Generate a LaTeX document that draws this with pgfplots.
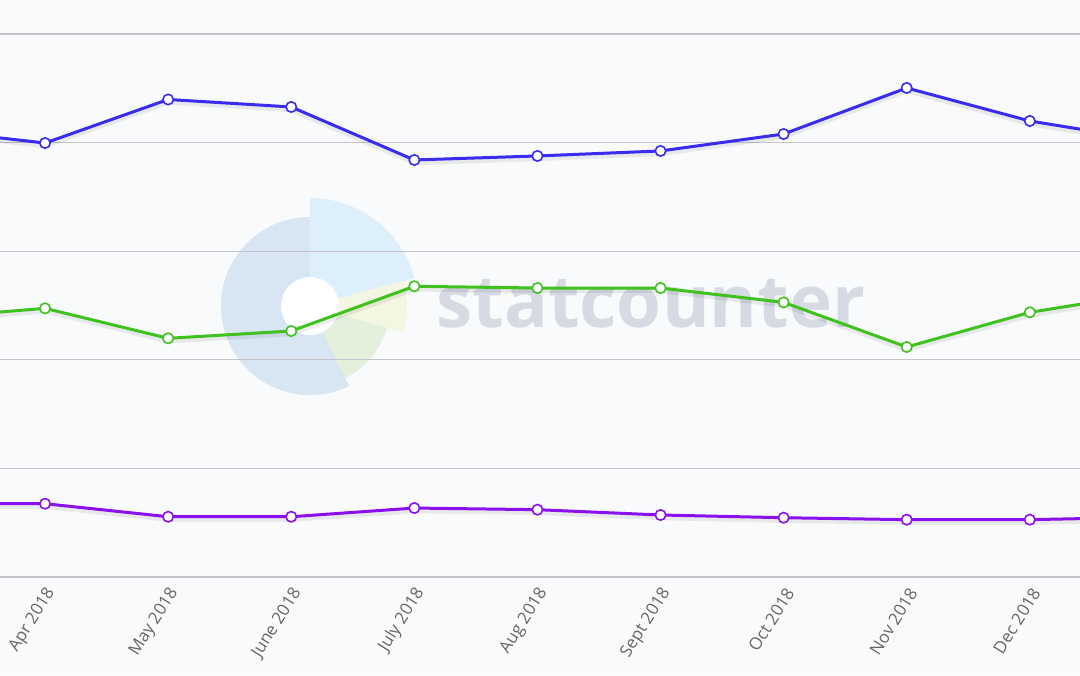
\documentclass[border=0pt]{standalone}
\usepackage{pgfplots}
\usepackage{pgfplotstable}
\pgfplotsset{compat=1.18}
\usepackage{fontspec}
\setmainfont{Open Sans}
\definecolor{bg}{HTML}{F9FAFC}
\definecolor{gridc}{HTML}{C4C4C8}
\definecolor{lblue}{HTML}{3A2CEE}
\definecolor{lgreen}{HTML}{40C21E}
\definecolor{lpurple}{HTML}{8A10EE}
\definecolor{logoblue}{HTML}{D8E5F3}
\definecolor{logocyan}{HTML}{DDEFFB}
\definecolor{logoyellow}{HTML}{F3F7E1}
\definecolor{logogreen}{HTML}{E4EFDC}
\definecolor{logotext}{HTML}{D5DAE3}
\definecolor{ticktext}{HTML}{666666}

\pgfplotstableread{
x blue green purple
0 41.25 23.81 6.75
1 39.96 24.74 6.75
2 43.97 21.98 5.55
3 43.28 22.65 5.55
4 38.40 26.77 6.35
5 38.77 26.61 6.20
6 39.23 26.61 5.71
7 40.79 25.29 5.46
8 45.03 21.18 5.28
9 41.99 24.37 5.28
10 40.15 26.19 5.51
}\datatable

\begin{document}
\begin{tikzpicture}[x=1bp,y=1bp]
\path[use as bounding box, fill=bg] (0,-49) rectangle (540,288.5);
% watermark logo
\begin{scope}[shift={(155,135.5)}]
 \fill[logoblue] (0,0) -- (90:44.5) arc[start angle=90,end angle=296,radius=44.5] -- cycle;
 \fill[logocyan] (0,0) -- (15:54) arc[start angle=15,end angle=90,radius=54] -- cycle;
 \fill[logoyellow] (0,0) -- (-16:48.5) arc[start angle=-16,end angle=15,radius=48.5] -- cycle;
 \fill[logogreen] (0,0) -- (-64:40) arc[start angle=-64,end angle=-16,radius=40] -- cycle;
 \fill[white] (0,0) circle (14.5);
\end{scope}
\node[anchor=base west, inner sep=0, text=logotext, font=\fontsize{36.5}{42}\selectfont\bfseries] at (218,125) {statcounter};
\begin{axis}[
  at={(0,0)}, anchor=south west,
  scale only axis, width=540bp, height=288.5bp,
  xmin=0.634, xmax=9.408, ymin=0, ymax=53.13,
  axis line style={draw=none},
  ytick={0,10,20,30,40,50}, yticklabels={},
  ymajorgrids, grid style={gridc, line width=0.6bp},
  major tick length=0,
  xtick={1,...,9},
  xticklabels={Apr 2018, May 2018, June 2018, July 2018, Aug 2018, Sept 2018, Oct 2018, Nov 2018, Dec 2018},
  xticklabel style={xshift=5bp, yshift=-3.5bp, rotate=58, anchor=east, font=\fontsize{8.5}{10}\selectfont, text=ticktext},
  clip=true,
]
\foreach \s/\c in {blue/lblue, green/lgreen, purple/lpurple}{
  \addplot[black, opacity=0.07, line width=2.8bp, no marks, yshift=-1.2bp] table[x=x, y=\s] {\datatable};
}
\addplot[lblue, line width=1.5bp, mark=*, mark size=2.6bp, mark options={fill=white, draw=lblue, line width=0.8bp}] table[x=x, y=blue] {\datatable};
\addplot[lgreen, line width=1.5bp, mark=*, mark size=2.6bp, mark options={fill=white, draw=lgreen, line width=0.8bp}] table[x=x, y=green] {\datatable};
\addplot[lpurple, line width=1.5bp, mark=*, mark size=2.6bp, mark options={fill=white, draw=lpurple, line width=0.8bp}] table[x=x, y=purple] {\datatable};
\end{axis}
\end{tikzpicture}
\end{document}
